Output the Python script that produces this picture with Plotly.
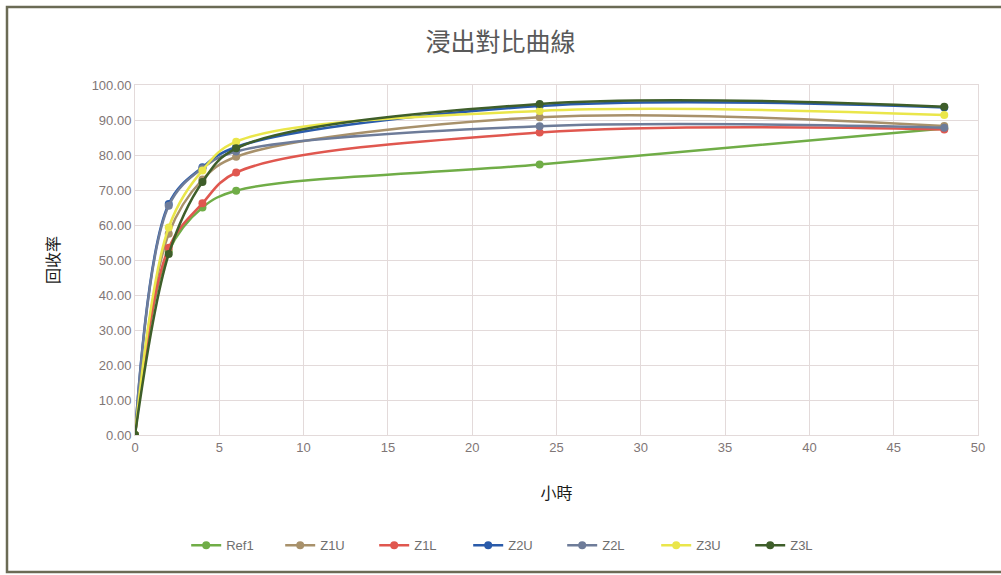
import plotly.graph_objects as go

hours = [0, 2, 4, 6, 24, 48]

ref1 = [0.0, 52.5, 65.0, 69.8, 77.3, 87.6]
z1u = [0.0, 57.5, 73.0, 79.5, 90.8, 88.3]
z1l = [0.0, 53.5, 66.2, 75.0, 86.4, 87.3]
z2u = [0.0, 66.0, 76.5, 82.3, 94.0, 93.6]
z2l = [0.0, 65.5, 76.2, 81.0, 88.2, 87.8]
z3u = [0.0, 59.3, 75.6, 83.8, 92.6, 91.4]
z3l = [0.0, 51.7, 72.3, 81.9, 94.6, 93.8]

series = [
    ("Ref1", ref1, "#70AD47"),
    ("Z1U", z1u, "#A8916B"),
    ("Z1L", z1l, "#E0574F"),
    ("Z2U", z2u, "#2A5BAA"),
    ("Z2L", z2l, "#6E7C99"),
    ("Z3U", z3u, "#EAE64A"),
    ("Z3L", z3l, "#3E5E2A"),
]

x_ticks = [0, 5, 10, 15, 20, 25, 30, 35, 40, 45, 50]
y_ticks = [0, 10, 20, 30, 40, 50, 60, 70, 80, 90, 100]

fig = go.Figure()
for name, vals, col in series:
    fig.add_trace(go.Scatter(
        x=hours, y=vals, name=name, mode="lines+markers",
        line=dict(color=col, width=2.5, shape="spline", smoothing=1.0),
        marker=dict(color=col, size=8),
    ))

grid = "#E3DADA"
tickfont = dict(family="Liberation Sans, Arial, sans-serif", size=13, color="#7F7676")
cjk = "Noto Sans CJK TC, Noto Sans CJK SC, sans-serif"

fig.update_layout(
    width=1001, height=575,
    margin=dict(l=135, r=23, t=85, b=140),
    paper_bgcolor="white", plot_bgcolor="white",
    title=dict(text="浸出對比曲線", x=0.5, xanchor="center", y=0.926, yanchor="middle",
               font=dict(family=cjk, size=25, color="#595959")),
    xaxis=dict(range=[0, 50], tickvals=x_ticks, showgrid=True, gridcolor=grid, gridwidth=1,
               zeroline=False, showline=True, linecolor=grid, mirror=True, automargin=False,
               tickfont=tickfont, ticks="",
               title=dict(text="小時", font=dict(family=cjk, size=16, color="#1a1a1a"), standoff=34)),
    yaxis=dict(range=[0, 100], tickvals=y_ticks, tickformat=".2f", showgrid=True, gridcolor=grid,
               zeroline=False, showline=True, linecolor=grid, mirror=True, automargin=False,
               tickfont=tickfont, ticks="",
               title=dict(text="回收率", font=dict(family=cjk, size=16, color="#1a1a1a"), standoff=28)),
    legend=dict(orientation="h", x=0.451, xanchor="center", y=-0.315, yanchor="middle",
                font=dict(family="Liberation Sans, Arial, sans-serif", size=13, color="#6f6f6f"),
                entrywidth=49, entrywidthmode="pixels", itemwidth=30, tracegroupgap=0),
    showlegend=True,
)

# outer chart border (right edge lies outside the canvas)
fig.add_shape(type="rect", xref="paper", yref="paper",
              x0=(7 - 135) / 843, x1=(1040 - 135) / 843,
              y0=(435 - 572) / 350, y1=(435 - 7) / 350,
              line=dict(color="#6B6B55", width=2.5), fillcolor="rgba(0,0,0,0)", layer="below")

fig.write_html("out.html", config={"displayModeBar": False},
               post_script="document.body.style.margin='0';")
